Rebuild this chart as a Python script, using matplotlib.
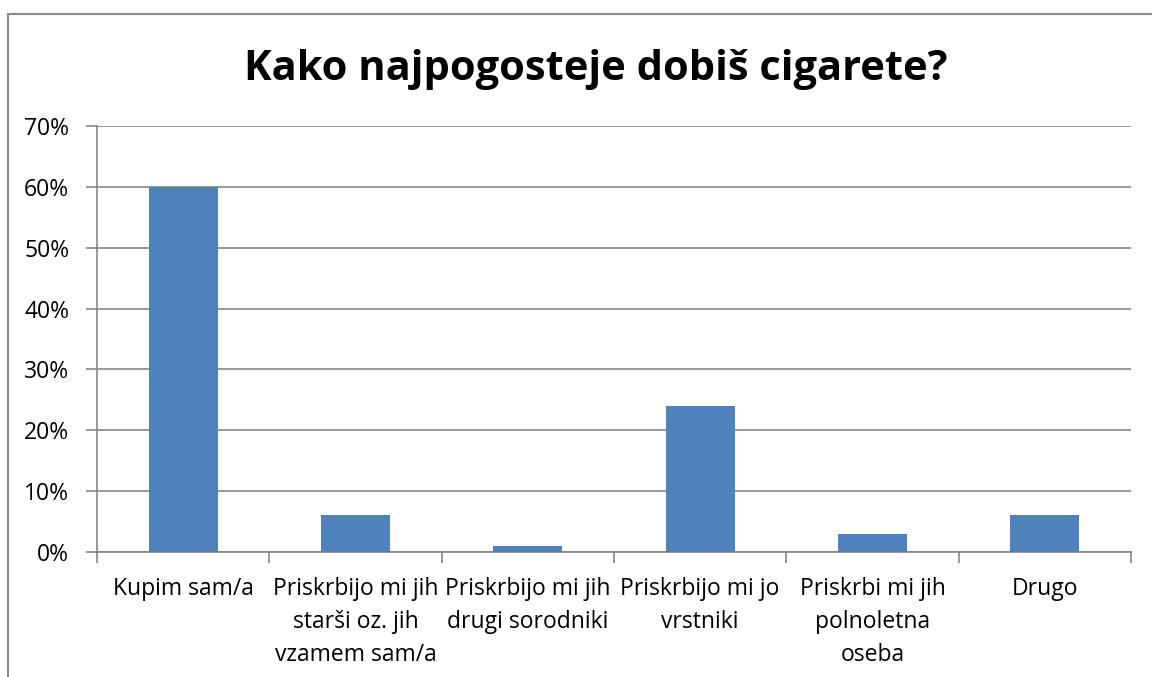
import matplotlib
matplotlib.use("Agg")
import matplotlib.pyplot as plt
from matplotlib.patches import Rectangle
from matplotlib.ticker import PercentFormatter, FixedLocator, NullFormatter

categories = [
    "Kupim sam/a",
    "Priskrbijo mi jih\nstarši oz. jih\nvzamem sam/a",
    "Priskrbijo mi jih\ndrugi sorodniki",
    "Priskrbijo mi jo\nvrstniki",
    "Priskrbi mi jih\npolnoletna\noseba",
    "Drugo",
]
values = [60, 6, 1, 24, 3, 6]
title = "Kako najpogosteje dobiš cigarete?"

plt.rcParams['font.family'] = ['Open Sans', 'DejaVu Sans']

W, H = 1152, 677
fig = plt.figure(figsize=(W / 100, H / 100), dpi=100)
fig.patch.set_facecolor("white")

# outer chart border
fig.add_artist(Rectangle((8 / W, -0.05), 1.2, (H - 14) / H + 0.05,
                         transform=fig.transFigure, fill=False,
                         edgecolor="#8c8c8c", linewidth=1.5))

ax = fig.add_axes([97 / W, (H - 552) / H, (1131 - 97) / W, (552 - 126) / H])
x = list(range(len(categories)))
ax.bar(x, values, width=0.4, color="#4F81BD", zorder=3)
ax.set_xlim(-0.5, len(categories) - 0.5)
ax.set_ylim(0, 70)
ax.set_yticks(range(0, 71, 10))
ax.yaxis.set_major_formatter(PercentFormatter(decimals=0))
ax.grid(axis="y", color="#868686", linewidth=1.2, zorder=0)

ax.xaxis.set_major_locator(FixedLocator([i - 0.5 for i in range(len(categories) + 1)]))
ax.xaxis.set_major_formatter(NullFormatter())
ax.xaxis.set_minor_locator(FixedLocator(x))
ax.set_xticklabels(categories, minor=True)
ax.tick_params(axis="x", which="minor", length=0, pad=18, labelsize=16.5)
ax.tick_params(axis="x", which="major", length=8, color="#868686", width=1.2)
ax.tick_params(axis="y", length=8, color="#868686", width=1.2, labelsize=16.5, pad=12)
for lbl in ax.get_xticklabels(minor=True):
    lbl.set_linespacing(1.5)

for s in ["top", "right"]:
    ax.spines[s].set_visible(False)
for s in ["left", "bottom"]:
    ax.spines[s].set_color("#868686")
    ax.spines[s].set_linewidth(1.2)

fig.text(596 / W, 1 - 70 / H, title, ha="center", va="center",
         fontsize=30, fontweight="bold")

fig.savefig("out.png", dpi=100, facecolor="white")
